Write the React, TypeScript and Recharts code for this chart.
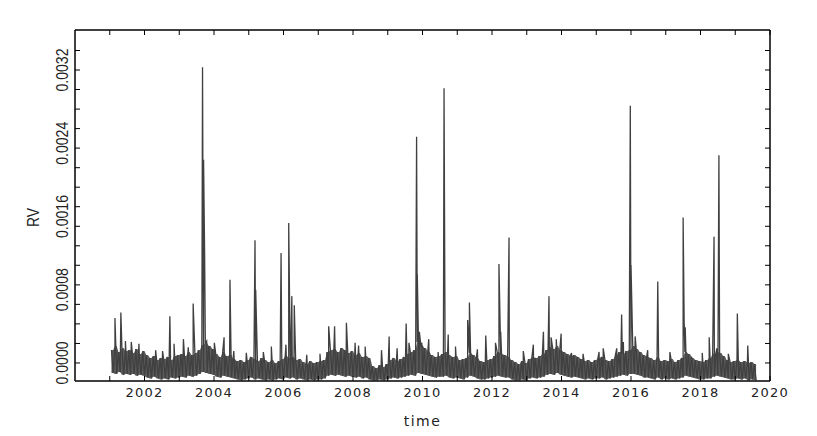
import { ComposedChart, Line, Area, XAxis, YAxis, Label } from "recharts";

// realized variance, read in units of 1e-4
const UNIT = 1e-4;

// dense daily band: top and bottom of the band every 0.1 year, starting 2001.05
const bandStart = 2001.05;
const bandStep = 0.1;
const bandHigh = [
  1.42, 1.86, 1.2, 1.64, 1.31, 1.42, 1.09, 1.53, 0.98, 1.31,
  0.87, 0.55, 0.76, 0.33, 0.55, 0.44, 0.66, 0.33, 0.76, 0.87,
  0.98, 0.76, 1.2, 0.87, 1.09, 1.42, 1.97, 2.18, 1.86, 1.53,
  0.98, 0.66, 1.2, 0.76, 0.87, 0.44, 0.22, 0.33, 0.11, 0.33,
  0.66, 0.44, 0.22, 0.55, 0.33, 0.11, 0.33, 0.0, 0.22, 0.44,
  0.76, 0.55, 0.66, 0.33, 0.44, 0.11, -0.11, 0.22, 0.0, 0.11,
  0.22, 0.33, 1.2, 1.42, 1.53, 1.2, 1.64, 1.42, 1.09, 1.31,
  0.87, 1.09, 0.66, 0.76, 0.55, -0.33, -0.55, -0.22, -0.44, -0.11,
  0.33, 0.55, 0.22, 0.44, 0.66, 0.98, 1.2, 1.42, 2.29, 1.97,
  1.64, 1.2, 0.87, 0.66, 0.76, 0.98, 1.2, 0.87, 0.66, 0.76,
  0.33, 0.44, 0.55, 1.09, 0.87, 0.55, 0.22, 0.11, 0.33, 0.44,
  0.76, 1.2, 0.98, 0.87, 0.66, 0.33, 0.11, -0.11, 0.22, 0.0,
  0.44, 0.66, 0.55, 0.76, 0.98, 1.42, 1.75, 1.53, 1.86, 1.42,
  1.2, 0.98, 0.76, 0.87, 0.66, 0.44, 0.22, 0.33, 0.11, 0.33,
  0.55, 0.66, 0.33, 0.22, 0.44, 0.87, 1.2, 0.98, 1.31, 1.42,
  1.86, 1.53, 1.2, 0.87, 0.66, 0.55, 0.33, 0.66, 0.22, 0.33,
  0.22, 0.44, 0.11, 0.33, 0.55, 1.2, 0.98, 0.55, 0.33, 0.22,
  0.11, 0.33, 0.55, 0.98, 1.2, 1.09, 0.76, 0.33, 0.11, 0.22,
  0.33, 0.11, 0.22, 0.0, 0.11, -0.11,
];
const bandLow = [
  -1.1, -1.2, -1.0, -1.3, -1.2, -1.3, -1.2, -1.4, -1.3, -1.4,
  -1.6, -1.7, -1.5, -1.7, -1.8, -1.7, -1.8, -1.6, -1.7, -1.6,
  -1.5, -1.6, -1.4, -1.5, -1.4, -1.2, -1.0, -1.1, -1.2, -1.3,
  -1.5, -1.6, -1.4, -1.5, -1.6, -1.7, -1.8, -1.9, -1.8, -1.7,
  -1.6, -1.8, -1.7, -1.8, -1.9, -1.8, -1.9, -1.8, -1.7, -1.8,
  -1.6, -1.7, -1.6, -1.8, -1.7, -1.8, -1.9, -1.8, -1.9, -1.8,
  -1.8, -1.7, -1.4, -1.3, -1.4, -1.3, -1.4, -1.5, -1.4, -1.5,
  -1.6, -1.5, -1.7, -1.6, -1.8, -1.9, -1.9, -1.8, -1.9, -1.8,
  -1.7, -1.6, -1.7, -1.6, -1.5, -1.4, -1.3, -1.4, -1.1, -1.2,
  -1.3, -1.4, -1.5, -1.6, -1.5, -1.5, -1.4, -1.6, -1.7, -1.6,
  -1.7, -1.8, -1.6, -1.4, -1.5, -1.7, -1.8, -1.8, -1.7, -1.6,
  -1.5, -1.4, -1.5, -1.6, -1.6, -1.8, -1.9, -1.9, -1.8, -1.9,
  -1.7, -1.6, -1.7, -1.6, -1.5, -1.3, -1.2, -1.3, -1.1, -1.3,
  -1.4, -1.5, -1.6, -1.5, -1.6, -1.7, -1.8, -1.7, -1.8, -1.7,
  -1.7, -1.6, -1.8, -1.7, -1.6, -1.5, -1.4, -1.3, -1.4, -1.2,
  -1.2, -1.3, -1.4, -1.6, -1.6, -1.7, -1.8, -1.6, -1.8, -1.7,
  -1.8, -1.7, -1.8, -1.7, -1.6, -1.4, -1.5, -1.6, -1.7, -1.8,
  -1.8, -1.7, -1.7, -1.5, -1.4, -1.5, -1.6, -1.7, -1.8, -1.8,
  -1.7, -1.8, -1.7, -1.9, -1.8, -1.9,
];

// isolated spikes sticking out of the band
const spikeDates = [
  2001.15, 2001.32, 2001.45, 2001.62, 2001.84, 2002.32, 2002.52, 2002.73, 2002.85, 2003.12,
  2003.26, 2003.4, 2003.67, 2003.7, 2003.73, 2003.79, 2004.01, 2004.29, 2004.46, 2004.57,
  2004.93, 2005.18, 2005.2, 2005.42, 2005.65, 2005.93, 2006.07, 2006.15, 2006.24, 2006.31,
  2006.67, 2007.05, 2007.3, 2007.47, 2007.81, 2008.06, 2008.16, 2008.35, 2008.82, 2009.04,
  2009.27, 2009.53, 2009.61, 2009.83, 2009.85, 2009.91, 2009.98, 2010.18, 2010.45, 2010.62,
  2010.74, 2010.95, 2011.3, 2011.35, 2011.58, 2011.82, 2012.1, 2012.2, 2012.25, 2012.49,
  2012.9, 2013.19, 2013.48, 2013.64, 2013.7, 2013.85, 2013.99, 2014.29, 2014.62, 2015.08,
  2015.2, 2015.59, 2015.73, 2015.78, 2015.98, 2016.0, 2016.12, 2016.48, 2016.77, 2017.12,
  2017.5, 2017.53, 2017.56, 2017.74, 2018.05, 2018.25, 2018.39, 2018.47, 2018.53, 2018.8,
  2019.06, 2019.36,
];
const spikeValues = [
  4.9, 5.5, 2.4, 2.3, 2.1, 1.4, 1.3, 5.1, 2.1, 2.6,
  1.7, 6.5, 32.3, 22.2, 12.0, 2.4, 2.2, 2.8, 9.1, 1.3,
  1.1, 13.4, 8.0, 1.2, 1.8, 12.0, 2.0, 15.3, 7.3, 6.3,
  0.9, 1.0, 4.0, 4.0, 4.4, 2.2, 1.9, 1.8, 1.4, 2.9,
  1.6, 4.3, 2.2, 24.7, 9.7, 3.4, 2.2, 2.6, 1.2, 30.0,
  3.1, 1.8, 4.7, 6.6, 1.5, 3.0, 2.2, 10.8, 3.4, 13.7,
  1.3, 2.0, 3.4, 7.3, 2.8, 2.6, 3.2, 1.1, 1.0, 1.2,
  1.6, 1.6, 5.3, 2.3, 28.1, 10.7, 2.9, 1.4, 8.9, 1.2,
  15.9, 4.4, 3.9, 0.7, 1.1, 2.8, 13.8, 1.6, 22.7, 1.0,
  5.4, 1.9,
];

const yearTicks = [
  2001, 2002, 2003, 2004, 2005, 2006, 2007, 2008, 2009, 2010,
  2011, 2012, 2013, 2014, 2015, 2016, 2017, 2018, 2019, 2020,
];
const yearLabels = [2002, 2004, 2006, 2008, 2010, 2012, 2014, 2016, 2018, 2020];
const yLabelTicks = [0, 0.0008, 0.0016, 0.0024, 0.0032];
const yMinorTicks = [
  0, 0.000213, 0.000427, 0.00064, 0.000853, 0.001067, 0.00128, 0.001493, 0.001707,
  0.00192, 0.002133, 0.002347, 0.00256, 0.002773, 0.002987, 0.0032, 0.003413,
];

type Row = { t: number; rv: number; band?: [number, number] };
const points: Row[] = [];
bandHigh.forEach((h, i) => {
  const t = bandStart + i * bandStep;
  const band: [number, number] = [bandLow[i] * UNIT, h * UNIT];
  points.push({ t, rv: h * UNIT, band });
  points.push({ t: t + bandStep / 2, rv: bandLow[i] * UNIT, band });
});
spikeDates.forEach((t, i) => points.push({ t, rv: spikeValues[i] * UNIT }));
points.sort((a, b) => a.t - b.t);

const has = (list: number[], v: number) => list.some((x) => Math.abs(x - v) < 1e-7);

const yTickAll = [...yMinorTicks, 0.0008, 0.0016, 0.0024].sort((a, b) => a - b);

const narrow = "'Liberation Sans', Arial, sans-serif";

const LeftTick = (props: any) => {
  const { x, y, payload } = props;
  return (
    <g>
      {has(yMinorTicks, payload.value) && (
        <line x1={x} y1={y} x2={x + 5} y2={y} stroke="#000" strokeWidth={1} />
      )}
      {has(yLabelTicks, payload.value) && (
        <text
          x={x - 7}
          y={y}
          transform={`rotate(-90, ${x - 7}, ${y})`}
          textAnchor="middle"
          fontFamily={narrow}
          fontSize={17}
          textLength={43}
          lengthAdjust="spacingAndGlyphs"
          fill="#222"
        >
          {payload.value.toFixed(4)}
        </text>
      )}
    </g>
  );
};

const RightTick = (props: any) => {
  const { x, y } = props;
  return <line x1={x} y1={y} x2={x - 5} y2={y} stroke="#000" strokeWidth={1} />;
};

const BottomTick = (props: any) => {
  const { x, y, payload } = props;
  return (
    <g>
      <line x1={x} y1={y} x2={x} y2={y - 5} stroke="#000" strokeWidth={1} />
      {yearLabels.includes(payload.value) && (
        <text
          x={x}
          y={y + 16}
          textAnchor="middle"
          fontFamily="'DejaVu Sans', sans-serif"
          fontSize={13}
          letterSpacing={1.2}
          fill="#222"
        >
          {payload.value}
        </text>
      )}
    </g>
  );
};

const TopTick = (props: any) => {
  const { x, y } = props;
  return <line x1={x} y1={y} x2={x} y2={y + 5} stroke="#000" strokeWidth={1} />;
};

const frame = { stroke: "#000", strokeWidth: 1.5 };

export default function App() {
  return (
    <div style={{ width: 809, height: 428 }}>
      <ComposedChart
        width={809}
        height={428}
        data={points}
        margin={{ top: 21, right: 46, bottom: 0, left: 0 }}
      >
        <XAxis
          dataKey="t"
          type="number"
          domain={[2000, 2020]}
          allowDataOverflow
          ticks={yearTicks}
          interval={0}
          tickSize={0}
          tickMargin={0}
          tickLine={false}
          axisLine={frame}
          tick={<BottomTick />}
          height={55}
        >
          <Label
            content={(p: any) => {
              const vb = p.viewBox;
              return (
                <text
                  x={vb.x + vb.width / 2}
                  y={vb.y + 45}
                  textAnchor="middle"
                  fontFamily="'DejaVu Sans', sans-serif"
                  fontSize={14}
                  letterSpacing={1.5}
                  fill="#222"
                >
                  time
                </text>
              );
            }}
          />
        </XAxis>
        <XAxis
          xAxisId="t"
          orientation="top"
          type="number"
          dataKey="t"
          domain={[2000, 2020]}
          allowDataOverflow
          ticks={yearTicks}
          interval={0}
          tickSize={0}
          tickMargin={0}
          tickLine={false}
          axisLine={frame}
          tick={<TopTick />}
          height={1}
        />
        <YAxis
          type="number"
          domain={[-0.000197, 0.003637]}
          allowDataOverflow
          ticks={yTickAll}
          interval={0}
          tickSize={0}
          tickMargin={0}
          tickLine={false}
          axisLine={frame}
          tick={<LeftTick />}
          width={67}
        >
          <Label
            content={(p: any) => {
              const vb = p.viewBox;
              const cx = 31;
              const cy = vb.y + vb.height / 2 + 12;
              return (
                <text
                  x={cx}
                  y={cy}
                  transform={`rotate(-90, ${cx}, ${cy})`}
                  textAnchor="middle"
                  fontFamily={narrow}
                  fontSize={17}
                  textLength={19}
                  lengthAdjust="spacingAndGlyphs"
                  fill="#222"
                >
                  RV
                </text>
              );
            }}
          />
        </YAxis>
        <YAxis
          yAxisId="r"
          orientation="right"
          type="number"
          domain={[-0.000197, 0.003637]}
          allowDataOverflow
          ticks={yMinorTicks}
          interval={0}
          tickSize={0}
          tickMargin={0}
          tickLine={false}
          axisLine={frame}
          tick={<RightTick />}
          width={1}
        />
        <Area
          type="linear"
          dataKey="band"
          stroke="none"
          fill="#5a5a5a"
          fillOpacity={1}
          connectNulls
          isAnimationActive={false}
        />
        <Line
          type="linear"
          dataKey="rv"
          stroke="#404040"
          strokeWidth={1.3}
          dot={false}
          isAnimationActive={false}
        />
      </ComposedChart>
    </div>
  );
}
